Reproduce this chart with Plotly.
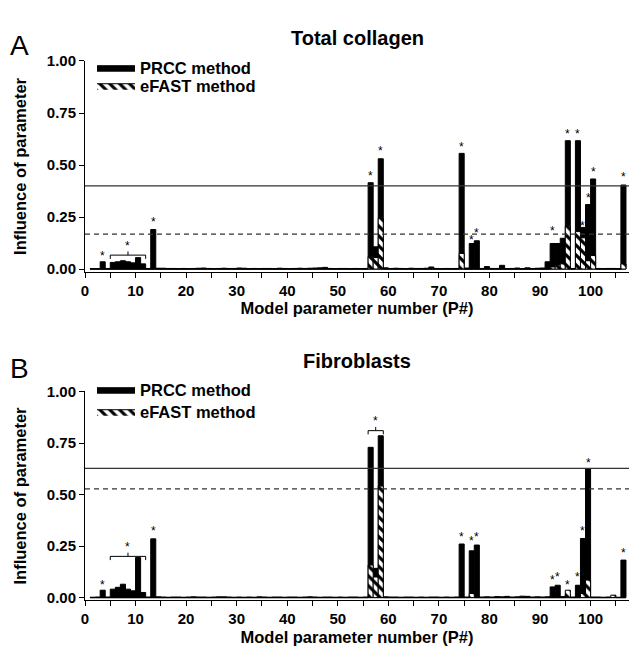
import plotly.graph_objects as go

# ---------------- data ----------------
params = list(range(1, 107))

prcc_A = [
    0.002, 0.002, 0.035, 0.003, 0.032, 0.035, 0.040, 0.035, 0.030, 0.055,
    0.025, 0.003, 0.190, 0.004, 0.004, 0.003, 0.003, 0.002, 0.003, 0.002,
    0.003, 0.004, 0.005, 0.003, 0.002, 0.003, 0.004, 0.003, 0.003, 0.005,
    0.004, 0.002, 0.003, 0.002, 0.003, 0.003, 0.002, 0.004, 0.003, 0.002,
    0.003, 0.004, 0.003, 0.004, 0.005, 0.006, 0.008, 0.003, 0.002, 0.003,
    0.003, 0.002, 0.003, 0.002, 0.003, 0.415, 0.107, 0.530, 0.006, 0.003,
    0.004, 0.003, 0.002, 0.004, 0.003, 0.003, 0.004, 0.010, 0.003, 0.002,
    0.003, 0.002, 0.003, 0.556, 0.005, 0.123, 0.136, 0.003, 0.012, 0.003,
    0.003, 0.018, 0.002, 0.003, 0.005, 0.002, 0.006, 0.003, 0.004, 0.005,
    0.035, 0.123, 0.123, 0.148, 0.617, 0.003, 0.617, 0.200, 0.310, 0.433,
    0.003, 0.002, 0.003, 0.003, 0.002, 0.404,
]
efast_A = [
    0.0, 0.0, 0.0, 0.0, 0.0, 0.0, 0.0, 0.0, 0.0, 0.0,
    0.0, 0.0, 0.0, 0.0, 0.0, 0.0, 0.0, 0.0, 0.0, 0.0,
    0.0, 0.0, 0.0, 0.0, 0.0, 0.0, 0.0, 0.0, 0.0, 0.0,
    0.0, 0.0, 0.0, 0.0, 0.0, 0.0, 0.0, 0.0, 0.0, 0.0,
    0.0, 0.0, 0.0, 0.0, 0.0, 0.0, 0.0, 0.0, 0.0, 0.0,
    0.0, 0.0, 0.0, 0.0, 0.0, 0.060, 0.055, 0.245, 0.0, 0.0,
    0.0, 0.0, 0.0, 0.0, 0.0, 0.0, 0.0, 0.0, 0.0, 0.0,
    0.0, 0.0, 0.0, 0.075, 0.0, 0.0, 0.0, 0.0, 0.0, 0.0,
    0.0, 0.0, 0.0, 0.0, 0.0, 0.0, 0.0, 0.0, 0.0, 0.0,
    0.0, 0.010, 0.020, 0.025, 0.207, 0.0, 0.180, 0.150, 0.040, 0.065,
    0.0, 0.0, 0.0, 0.0, 0.0, 0.025,
]

prcc_B = [
    0.002, 0.003, 0.036, 0.003, 0.041, 0.050, 0.065, 0.041, 0.033, 0.195,
    0.025, 0.003, 0.285, 0.004, 0.003, 0.002, 0.003, 0.003, 0.002, 0.003,
    0.004, 0.003, 0.003, 0.002, 0.003, 0.004, 0.004, 0.003, 0.002, 0.003,
    0.002, 0.003, 0.002, 0.004, 0.003, 0.002, 0.003, 0.003, 0.002, 0.003,
    0.003, 0.002, 0.003, 0.004, 0.003, 0.002, 0.003, 0.003, 0.002, 0.003,
    0.002, 0.003, 0.003, 0.002, 0.003, 0.729, 0.142, 0.785, 0.004, 0.003,
    0.003, 0.002, 0.003, 0.003, 0.002, 0.003, 0.002, 0.003, 0.003, 0.002,
    0.003, 0.002, 0.003, 0.260, 0.003, 0.227, 0.255, 0.003, 0.004, 0.003,
    0.005, 0.004, 0.006, 0.003, 0.004, 0.007, 0.006, 0.003, 0.004, 0.003,
    0.004, 0.052, 0.060, 0.005, 0.015, 0.003, 0.060, 0.287, 0.624, 0.003,
    0.003, 0.002, 0.003, 0.003, 0.002, 0.182,
]
efast_B = [
    0.0, 0.0, 0.0, 0.0, 0.0, 0.0, 0.0, 0.0, 0.0, 0.0,
    0.0, 0.0, 0.0, 0.0, 0.0, 0.0, 0.0, 0.0, 0.0, 0.0,
    0.0, 0.0, 0.0, 0.0, 0.0, 0.0, 0.0, 0.0, 0.0, 0.0,
    0.0, 0.0, 0.0, 0.0, 0.0, 0.0, 0.0, 0.0, 0.0, 0.0,
    0.0, 0.0, 0.0, 0.0, 0.0, 0.0, 0.0, 0.0, 0.0, 0.0,
    0.0, 0.0, 0.0, 0.0, 0.0, 0.158, 0.100, 0.541, 0.0, 0.0,
    0.0, 0.0, 0.0, 0.0, 0.0, 0.0, 0.0, 0.0, 0.0, 0.0,
    0.0, 0.0, 0.0, 0.0, 0.0, 0.020, 0.0, 0.0, 0.0, 0.0,
    0.0, 0.0, 0.0, 0.0, 0.0, 0.0, 0.0, 0.0, 0.0, 0.0,
    0.0, 0.0, 0.0, 0.0, 0.036, 0.0, 0.0, 0.020, 0.085, 0.0,
    0.0, 0.0, 0.0, 0.012, 0.0, 0.0,
]

# significance stars (parameter number, height)
stars_A_p = [3, 13, 56, 58, 74, 76, 77, 92, 95, 97, 98, 99, 100, 106]
stars_A_y = [0.078, 0.239, 0.463, 0.580, 0.600, 0.152, 0.187, 0.196, 0.665, 0.665, 0.220, 0.356, 0.480, 0.457]
stars_B_p = [3, 13, 74, 76, 77, 92, 93, 95, 97, 98, 99, 106]
stars_B_y = [0.077, 0.336, 0.308, 0.287, 0.308, 0.098, 0.114, 0.074, 0.113, 0.339, 0.667, 0.230]

# grouped significance brackets: (first param, last param, height)
brackets_A = [(5, 12, 0.067)]
brackets_B = [(5, 12, 0.200), (56, 59, 0.810)]

# threshold lines (solid, dashed)
thresh_A = (0.400, 0.168)
thresh_B = (0.627, 0.527)

yticks = [0, 0.25, 0.5, 0.75, 1.0]
xticks = list(range(0, 101, 10))
series_names = ["PRCC method", "eFAST method"]

# ---------------- figure ----------------
FONT = "Liberation Sans, Arial, sans-serif"
H = 653
fig = go.Figure()

pattern = dict(shape="\\", fgcolor="black", bgcolor="white", size=7, solidity=0.45, fillmode="replace")

panels = [
    dict(prcc=prcc_A, efast=efast_A, xa="x", ya="y", legs=("legend", "legend3")),
    dict(prcc=prcc_B, efast=efast_B, xa="x2", ya="y2", legs=("legend2", "legend4")),
]
for pn in panels:
    fig.add_trace(go.Bar(x=params, y=pn["prcc"], width=1, offset=0, name=series_names[0],
                         marker=dict(color="black", line=dict(color="black", width=1)),
                         xaxis=pn["xa"], yaxis=pn["ya"], showlegend=False))
    fig.add_trace(go.Bar(x=params, y=pn["efast"], width=1, offset=0, name=series_names[1],
                         marker=dict(color="white", line=dict(color="black", width=1), pattern=pattern),
                         xaxis=pn["xa"], yaxis=pn["ya"], showlegend=False))
    # legend keys (wide rectangular swatches)
    fig.add_trace(go.Scatter(x=[None], y=[None], mode="lines", fill="toself", name=series_names[0],
                             fillcolor="black", line=dict(color="black", width=1),
                             xaxis=pn["xa"], yaxis=pn["ya"], legend=pn["legs"][0]))
    fig.add_trace(go.Scatter(x=[None], y=[None], mode="lines", fill="toself", name=series_names[1],
                             fillcolor="white", fillpattern=pattern, line=dict(color="black", width=1),
                             xaxis=pn["xa"], yaxis=pn["ya"], legend=pn["legs"][1]))

TICKFONT = dict(family=FONT, size=15, color="black", weight="bold")
TITLEFONT = dict(family=FONT, size=16.5, color="black", weight="bold")
axis_common = dict(showline=True, linecolor="black", linewidth=1, ticks="outside", ticklen=5,
                   tickcolor="black", showgrid=False, zeroline=False, tickfont=TICKFONT,
                   automargin=False)

xr = [0, 107.6]
minor = dict(dtick=5, tick0=0, ticks="outside", ticklen=5, tickcolor="black")


def legend_at(ypix):
    return dict(x=7 / 544, y=1 - ypix / H, xanchor="left", yanchor="middle", bgcolor="rgba(0,0,0,0)",
                font=dict(family=FONT, size=16.5, color="black", weight="bold"),
                tracegroupgap=0, itemwidth=38)


fig.update_layout(
    width=634, height=H, plot_bgcolor="white", paper_bgcolor="white",
    margin=dict(l=85, r=5, t=0, b=0, autoexpand=False), barmode="overlay", showlegend=True,
    xaxis=dict(domain=[0, 1], range=xr, tickvals=xticks, anchor="y", minor=minor,
               title=dict(text="Model parameter number (P#)", standoff=4, font=TITLEFONT),
               **axis_common),
    yaxis=dict(domain=[0.5835, 0.9066], range=[-0.014, 1.0], tickvals=yticks, tickformat=".2f",
               anchor="x", title=dict(text="Influence of parameter", standoff=16, font=TITLEFONT),
               **axis_common),
    xaxis2=dict(domain=[0, 1], range=xr, tickvals=xticks, anchor="y2", minor=minor,
                title=dict(text="Model parameter number (P#)", standoff=4, font=TITLEFONT),
                **axis_common),
    yaxis2=dict(domain=[0.0804, 0.4005], range=[-0.014, 1.0], tickvals=yticks, tickformat=".2f",
                anchor="x2", title=dict(text="Influence of parameter", standoff=16, font=TITLEFONT),
                **axis_common),
    legend=legend_at(68),
    legend3=legend_at(86),
    legend2=legend_at(390),
    legend4=legend_at(412),
)

# threshold lines
for (solid, dashed), xa, ya in [(thresh_A, "x", "y"), (thresh_B, "x2", "y2")]:
    fig.add_shape(type="line", xref=f"{xa} domain", yref=ya, x0=0, x1=1, y0=solid, y1=solid,
                  line=dict(color="#333333", width=1.2))
    fig.add_shape(type="line", xref=f"{xa} domain", yref=ya, x0=0, x1=1, y0=dashed, y1=dashed,
                  line=dict(color="#333333", width=1.2, dash="5px,4px"))

# stars
for ps, ys, xa, ya in [(stars_A_p, stars_A_y, "x", "y"), (stars_B_p, stars_B_y, "x2", "y2")]:
    for p, y in zip(ps, ys):
        fig.add_annotation(x=p + 0.5, y=y, xref=xa, yref=ya, text="*", showarrow=False,
                           yanchor="middle", yshift=-3, font=dict(family=FONT, size=12, color="black"))

# brackets
for brs, xa, ya in [(brackets_A, "x", "y"), (brackets_B, "x2", "y2")]:
    for p0, p1, h in brs:
        d = 0.018
        fig.add_shape(type="path", xref=xa, yref=ya,
                      path=f"M {p0},{h-d} L {p0},{h} L {p1},{h} L {p1},{h-d}",
                      line=dict(color="black", width=1))
        mid = (p0 + p1) / 2
        fig.add_shape(type="line", xref=xa, yref=ya, x0=mid, x1=mid, y0=h, y1=h + d,
                      line=dict(color="black", width=1))
        fig.add_annotation(x=mid, y=h + 0.06, xref=xa, yref=ya, text="*", showarrow=False,
                           yanchor="middle", yshift=-3, font=dict(family=FONT, size=12, color="black"))

# panel titles and letters
for txt, ypix in [("Total collagen", 38), ("Fibroblasts", 361)]:
    fig.add_annotation(x=0.5, y=1 - ypix / H, xref="paper", yref="paper", text=txt, showarrow=False,
                       xanchor="center", yanchor="middle",
                       font=dict(family=FONT, size=20, color="black", weight="bold"))
for txt, ypix in [("A", 45), ("B", 368)]:
    fig.add_annotation(x=(19 - 85) / 544, y=1 - ypix / H, xref="paper", yref="paper", text=txt,
                       showarrow=False, xanchor="center", yanchor="middle",
                       font=dict(family=FONT, size=28, color="black"))

fig.write_html(
    "out.html",
    config={"displayModeBar": False},
    post_script="document.documentElement.style.margin='0';document.body.style.margin='0';"
                "document.body.style.padding='0';document.body.style.overflow='hidden';",
)
